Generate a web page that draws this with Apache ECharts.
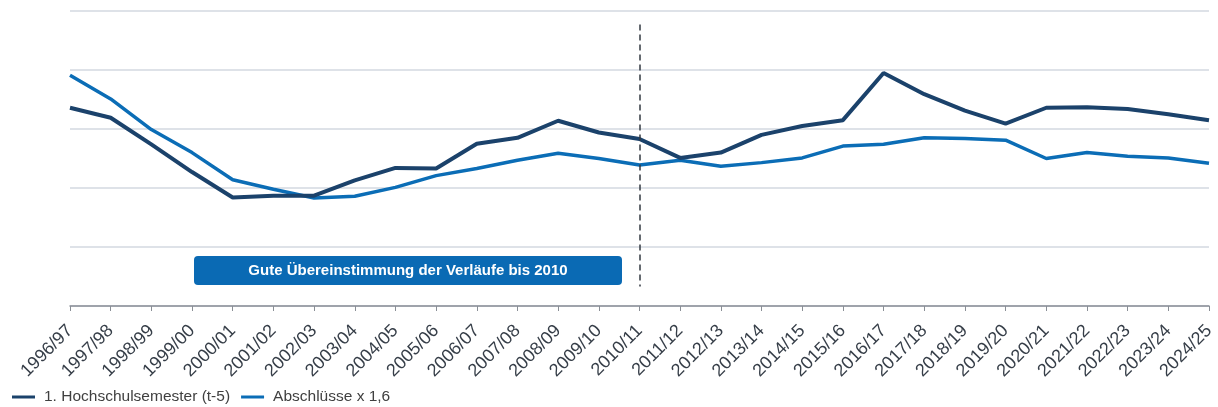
<!DOCTYPE html>
<html>
<head>
<meta charset="utf-8">
<script src="https://cdn.jsdelivr.net/npm/echarts@6/dist/echarts.min.js"></script>
<style>
    html, body { margin: 0; padding: 0; background: #fff; }
    #chart { width: 1218px; height: 407px; }
</style>
</head>
<body>
<div id="chart"></div>
<script>
// Kategorien (Studienjahre)
var years = ['1996/97', '1997/98', '1998/99', '1999/00', '2000/01', '2001/02', '2002/03', '2003/04',
    '2004/05', '2005/06', '2006/07', '2007/08', '2008/09', '2009/10', '2010/11', '2011/12', '2012/13',
    '2013/14', '2014/15', '2015/16', '2016/17', '2017/18', '2018/19', '2019/20', '2020/21', '2021/22',
    '2022/23', '2023/24', '2024/25'];

// 1. Hochschulsemester (t-5)
var erstsemester = [336, 319, 274, 227, 184, 187, 187, 213, 234, 233, 275, 285, 314, 294, 283,
    251, 260, 290, 305, 315, 395, 359, 331, 309, 336, 337, 334, 325, 315];

// Abschlüsse x 1,6
var abschluesse = [391, 351, 299, 260, 214, 198, 183, 186, 201, 221, 233, 247, 259, 250, 239,
    247, 237, 243, 251, 271, 274, 285, 284, 281, 250, 260, 254, 251, 242];

var seriesNames = ['1. Hochschulsemester (t-5)', 'Abschlüsse x 1,6'];
var hinweis = 'Gute Übereinstimmung der Verläufe bis 2010';

(function() {
    var myChart = echarts.init(document.getElementById('chart'));

    var option = {
        animation: false,
        textStyle: { fontFamily: 'Liberation Sans, Arial, sans-serif' },
        color: ['#1b426b', '#0b6db6'],
        grid: {
            left: 70,
            right: 9,
            top: 11,
            bottom: 101
        },
        legend: {
            left: 7,
            top: 384,
            itemWidth: 23,
            itemHeight: 3,
            itemGap: 11,
            icon: 'rect',
            textStyle: { fontSize: 15.5, color: '#404040', padding: [0, 0, 0, 4] },
            data: seriesNames
        },
        xAxis: {
            type: 'category',
            boundaryGap: false,
            data: years,
            axisLine: { lineStyle: { color: '#8a8f96', width: 1.5 } },
            axisTick: { show: true, length: 5, interval: 0, lineStyle: { color: '#8a8f96' } },
            axisLabel: {
                interval: 0,
                rotate: 45,
                fontSize: 18,
                color: '#363e48',
                margin: 22
            }
        },
        yAxis: {
            type: 'value',
            min: 0,
            max: 500,
            interval: 100,
            axisLabel: { show: false },
            axisLine: { show: false },
            axisTick: { show: false },
            splitLine: { lineStyle: { color: '#d3d8e1', width: 1.5 } }
        },
        series: [{
            name: seriesNames[0],
            type: 'line',
            data: erstsemester,
            symbol: 'none',
            lineStyle: { width: 4, color: '#1b426b' },
            z: 3,
            markLine: {
                silent: true,
                symbol: 'none',
                label: { show: false },
                lineStyle: { type: [6, 4], color: '#333a42', width: 1.5 },
                data: [[
                    { coord: ['2010/11', 477] },
                    { coord: ['2010/11', 33] }
                ]]
            }
        }, {
            name: seriesNames[1],
            type: 'line',
            data: abschluesse,
            symbol: 'none',
            lineStyle: { width: 3.5, color: '#0b6db6' },
            z: 2
        }],
        graphic: [{
            type: 'group',
            left: 194,
            top: 256,
            children: [{
                type: 'rect',
                shape: { x: 0, y: 0, width: 428, height: 29, r: 4 },
                style: { fill: '#0a6ab4' }
            }, {
                type: 'text',
                x: 214,
                y: 15,
                style: {
                    text: hinweis,
                    fill: '#fff',
                    font: 'bold 15px "Liberation Sans", Arial, sans-serif',
                    align: 'center',
                    verticalAlign: 'middle'
                }
            }]
        }]
    };

    myChart.setOption(option);
    window.addEventListener('resize', function() {
        myChart.resize();
    });
})();
</script>
</body>
</html>
